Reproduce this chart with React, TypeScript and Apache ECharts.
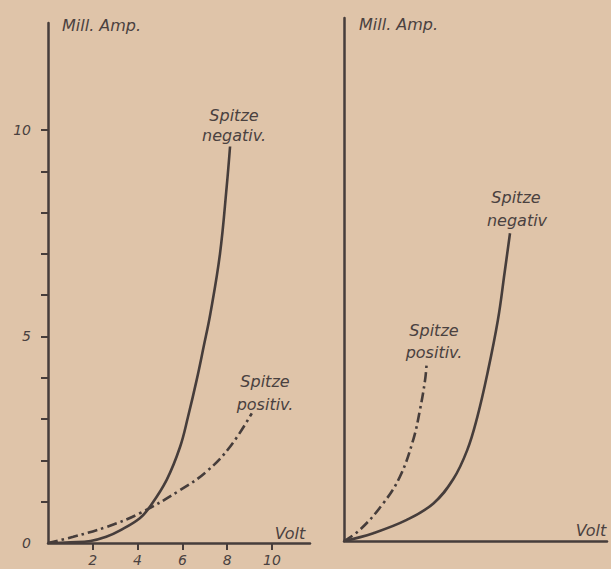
import React, { useEffect, useRef } from "react";
import * as echarts from "echarts";

// Left diagram: Volt vs. Mill. Amp.
const leftNegativ: number[][] = [
  [0, 0], [1, 0.02], [1.9, 0.05], [2.6, 0.15], [3.2, 0.3], [4.1, 0.6], [4.55, 0.88],
  [5.3, 1.53], [5.9, 2.33], [6.25, 3.05], [6.64, 3.95], [6.95, 4.75], [7.25, 5.55],
  [7.68, 7.0], [7.98, 8.63], [8.13, 9.6],
];
const leftPositiv: number[][] = [
  [0, 0], [1.13, 0.15], [2.62, 0.39], [4.1, 0.72], [5.9, 1.28],
  [7.08, 1.73], [8.13, 2.33], [9.1, 3.14],
];
// Right diagram (no scale labels)
const rightNegativ: number[][] = [
  [0, 0], [1.31, 0.19], [2.8, 0.51], [3.99, 0.91], [4.88, 1.5], [5.5, 2.2],
  [5.95, 3.0], [6.4, 4.05], [6.87, 5.35], [7.17, 6.5], [7.41, 7.45],
];
const rightPositiv: number[][] = [
  [0, 0], [0.71, 0.27], [1.75, 0.91], [2.5, 1.56], [3.09, 2.45], [3.39, 3.17],
  [3.62, 3.9], [3.69, 4.3],
];

const xTickValues = [2, 4, 6, 8, 10];
const yTickValues = [1, 2, 3, 4, 5, 6, 7, 8, 9, 10];
const yLabelValues = [0, 5, 10];

const INK = "#463d3b";
const TEXT = "#4a4140";
const BG = "#dfc4a9";
const FONT = "DejaVu Sans";

export default function App() {
  const ref = useRef<HTMLDivElement>(null);
  useEffect(() => {
    document.body.style.margin = "0";
    if (!ref.current) return;
    const chart = echarts.init(ref.current, undefined, { renderer: "svg" });
    const axisLine = { show: true, onZero: true, lineStyle: { color: INK, width: 2.5 } };
    const labelStyle = { color: TEXT, fontStyle: "italic" as const, fontFamily: FONT, fontSize: 14 };
    const txt = (text: string, x: number, y: number, align = "center", size = 16) => ({
      type: "text",
      x,
      y,
      style: { text, fill: TEXT, fontStyle: "italic", fontFamily: FONT, fontSize: size, align, verticalAlign: "middle" },
    });
    const solid = { color: INK, width: 2.6, type: "solid" as const };
    const dashDot = { color: INK, width: 2.6, type: [10, 4, 2.5, 4] as any };
    const common = { type: "line", smooth: 0.4, symbol: "none" };
    chart.setOption({
      animation: false,
      backgroundColor: BG,
      grid: [
        { left: 48, top: 23, width: 262, height: 520, outerBoundsMode: "none" },
        { left: 344, top: 18, width: 263, height: 523, outerBoundsMode: "none" },
      ],
      xAxis: [
        {
          gridIndex: 0, type: "value", min: 0, max: 11.7, interval: 2,
          axisLine, splitLine: { show: false },
          axisTick: { show: true, length: 7, customValues: xTickValues, lineStyle: { color: INK, width: 2 } },
          axisLabel: { ...labelStyle, margin: 10, customValues: xTickValues },
        },
        {
          gridIndex: 1, type: "value", min: 0, max: 11.74,
          axisLine, splitLine: { show: false }, axisTick: { show: false }, axisLabel: { show: false },
        },
      ],
      yAxis: [
        {
          gridIndex: 0, type: "value", min: 0, max: 12.59, interval: 1,
          axisLine, splitLine: { show: false },
          axisTick: { show: true, length: 7, customValues: yTickValues, lineStyle: { color: INK, width: 2 } },
          axisLabel: { ...labelStyle, margin: 17, customValues: yLabelValues },
        },
        {
          gridIndex: 1, type: "value", min: 0, max: 12.66,
          axisLine, splitLine: { show: false }, axisTick: { show: false }, axisLabel: { show: false },
        },
      ],
      series: [
        { ...common, name: "Spitze negativ. (links)", xAxisIndex: 0, yAxisIndex: 0, data: leftNegativ, lineStyle: solid },
        { ...common, name: "Spitze positiv. (links)", xAxisIndex: 0, yAxisIndex: 0, data: leftPositiv, lineStyle: dashDot },
        { ...common, name: "Spitze negativ (rechts)", xAxisIndex: 1, yAxisIndex: 1, data: rightNegativ, lineStyle: solid },
        { ...common, name: "Spitze positiv. (rechts)", xAxisIndex: 1, yAxisIndex: 1, data: rightPositiv, lineStyle: dashDot },
      ],
      graphic: [
        txt("Mill. Amp.", 62, 25, "left"),
        txt("Mill. Amp.", 359, 24, "left"),
        txt("Volt", 290, 533),
        txt("Volt", 591, 530),
        txt("Spitze", 234, 115),
        txt("negativ.", 234, 135),
        txt("Spitze", 265, 381),
        txt("positiv.", 265, 404),
        txt("Spitze", 516, 197),
        txt("negativ", 517, 220),
        txt("Spitze", 434, 330),
        txt("positiv.", 434, 352),
      ],
    });
    return () => chart.dispose();
  }, []);
  return <div ref={ref} style={{ width: 611, height: 569 }} />;
}
